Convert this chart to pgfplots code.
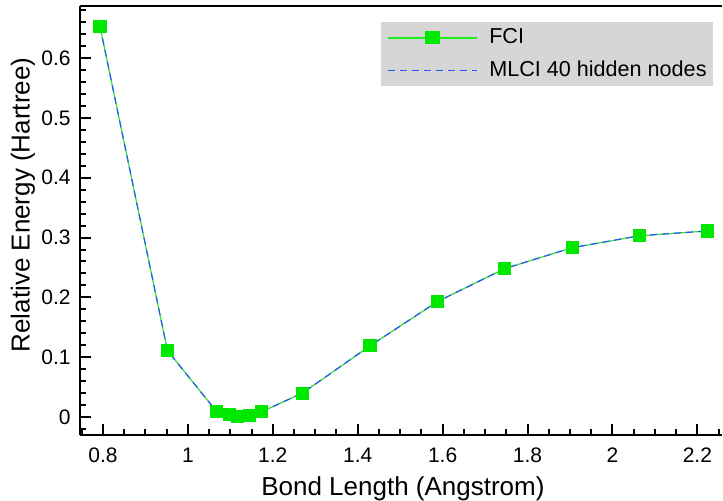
\documentclass[border=0pt]{standalone}
\usepackage{fontspec}
\setmainfont{Liberation Sans}
\usepackage{pgfplots}
\pgfplotsset{compat=1.18}
\definecolor{fcimark}{RGB}{0,232,0}
\definecolor{fciline}{RGB}{50,225,50}
\definecolor{fcilegline}{RGB}{30,240,30}
\definecolor{mlciblue}{RGB}{40,85,255}
\definecolor{leggray}{RGB}{214,214,214}
\begin{document}
\begin{tikzpicture}
\begin{axis}[
  name=ax,
  scale only axis,
  width=321pt, height=214.5pt,
  xmin=0.746, xmax=2.258,
  ymin=-0.030, ymax=0.687,
  axis x line*=bottom, axis y line*=left,
  axis line style={line width=1pt, black},
  tick align=inside,
  xtick={0.8,1,1.2,1.4,1.6,1.8,2,2.2},
  ytick={0,0.1,0.2,0.3,0.4,0.5,0.6},
  minor xtick={0.75,0.85,0.9,0.95,1.05,1.1,1.15,1.25,1.3,1.35,1.45,1.5,1.55,1.65,1.7,1.75,1.85,1.9,1.95,2.05,2.1,2.15,2.25},
  minor ytick={-0.02,0.02,0.04,0.06,0.08,0.12,0.14,0.16,0.18,0.22,0.24,0.26,0.28,0.32,0.34,0.36,0.38,0.42,0.44,0.46,0.48,0.52,0.54,0.56,0.58,0.62,0.64,0.66,0.68},
  major tick length=5.5pt, minor tick length=3pt,
  every tick/.style={line width=1pt, black},
  /pgf/number format/assume math mode=true,
  ticklabel style={font=\fontsize{10.5}{12}\selectfont},
  xticklabel style={anchor=base, inner sep=0pt, yshift=-14pt},
  yticklabel style={anchor=east, inner sep=0pt, xshift=-4.5pt},
  xlabel={Bond Length (Angstrom)},
  ylabel={Relative Energy (Hartree)},
  every axis x label/.style={at={(axis description cs:0.503,0)}, anchor=base, inner sep=0pt, yshift=-30.3pt, font=\fontsize{13}{15}\selectfont},
  every axis y label/.style={at={(axis description cs:-0.0888,0.536)}, anchor=center, rotate=90, inner sep=0pt, font=\fontsize{13}{15}\selectfont},
  legend style={at={(axis description cs:0.986,0.963)}, anchor=north east,
    fill=leggray, draw=none, inner xsep=3pt, inner ysep=2.25pt,
    font=\fontsize{10.8}{12}\selectfont, row sep=5.5pt,
    nodes={inner sep=0pt, text height=8.5pt, text depth=2.5pt, anchor=west},
    /tikz/every odd column/.append style={column sep=5.5pt}},
  legend cell align=left,
]
\addplot[color=fciline, line width=0.6pt, mark=square*, mark size=3pt,
  mark options={fill=fcimark, draw=fcimark, solid},
  legend image code/.code={
    \draw[fcilegline, line width=0.9pt] (0pt,0pt) -- (44.5pt,0pt);
    \fill[fcimark] (18.75pt,-3pt) rectangle (25.75pt,3pt);}]
coordinates {
(0.793,0.653) (0.952,0.111) (1.068,0.009) (1.098,0.004) (1.117,0.001) (1.145,0.003) (1.174,0.009)
(1.270,0.040) (1.429,0.119) (1.588,0.193) (1.746,0.248) (1.905,0.283) (2.064,0.303) (2.223,0.311)
};
\addlegendentry{FCI}
\addplot[color=mlciblue, line width=0.6pt, dash pattern=on 3.5pt off 2.5pt, mark=none,
  legend image code/.code={
    \draw[mlciblue, line width=0.7pt, dash pattern=on 3.5pt off 2.5pt] (0pt,0pt) -- (44.5pt,0pt);}]
coordinates {
(0.793,0.653) (0.952,0.111) (1.068,0.009) (1.098,0.004) (1.117,0.001) (1.145,0.003) (1.174,0.009)
(1.270,0.040) (1.429,0.119) (1.588,0.193) (1.746,0.248) (1.905,0.283) (2.064,0.303) (2.223,0.311)
};
\addlegendentry{MLCI 40 hidden nodes}
\draw[line width=1.5pt, black] (rel axis cs:0,1) -- (rel axis cs:1,1);
\end{axis}
\pgfresetboundingbox
\path ([shift={(-40pt,-33pt)}]ax.south west) rectangle ([shift={(0.5pt,3pt)}]ax.north east);
\end{tikzpicture}
\end{document}
